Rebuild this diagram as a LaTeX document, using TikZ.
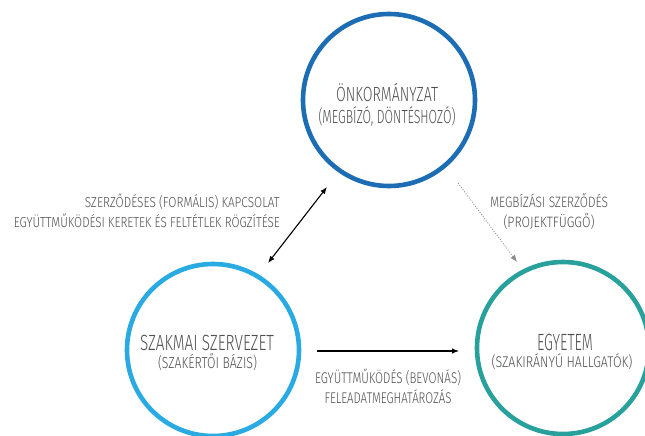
\documentclass[tikz,border=0pt]{standalone}
\usepackage{fontspec}
\setmainfont{Fira Sans Light}
\usetikzlibrary{arrows.meta,calc}
\definecolor{cOnk}{HTML}{1D6DB4}
\definecolor{cSzak}{HTML}{2AAAE2}
\definecolor{cEgy}{HTML}{28A09C}
\definecolor{txtgray}{HTML}{505050}
\definecolor{dotgray}{HTML}{8C8C8C}
\newcommand\fitw[2]{\resizebox{#1}{\height}{#2}}
\begin{document}
\begin{tikzpicture}[x=1pt,y=-1pt,
  ring/.style={circle,draw=#1,line width=4.6pt,minimum size=172pt,inner sep=0pt,outer sep=0pt},
  lbl/.style={text=txtgray,inner sep=0pt,anchor=base},
  fs/.style={font=\fontsize{#1}{#1}\selectfont},
  dbl/.style={line width=1.1pt,{Latex[length=7pt,width=5.5pt]}-{Latex[length=7pt,width=5.5pt]}},
  one/.style={line width=1.1pt,-{Latex[length=7pt,width=5.5pt]}},
  dotline/.style={draw=dotgray,line width=0.8pt,dash pattern=on 1pt off 1.6pt,-{Latex[length=7pt,width=5.5pt,fill=dotgray]}}
]
\clip (0,0) rectangle (645,436);
\fill[white] (0,0) rectangle (645,436);

% circles
\node[ring=cOnk] (onk) at (389,100) {};
\node[ring=cSzak] (szak) at (213,350) {};
\node[ring=cEgy] (egy) at (563,348) {};

% circle texts
\node[lbl,fs=20.5] (onk1) at (387,101) {\fitw{102pt}{ÖNKORMÁNYZAT}};
\node[lbl,fs=19] (onk2) at (387,123.5) {\fitw{137pt}{(MEGBÍZÓ, DÖNTÉSHOZÓ)}};
\node[lbl,fs=22] (szak1) at (207,350) {\fitw{134pt}{SZAKMAI SZERVEZET}};
\node[lbl,fs=16] (szak2) at (207.5,368) {\fitw{99pt}{(SZAKÉRTŐI BÁZIS)}};
\node[lbl,fs=23.5] (egy1) at (565,350) {\fitw{56pt}{EGYETEM}};
\node[lbl,fs=15.5] (egy2) at (562,367.5) {\fitw{141pt}{(SZAKIRÁNYÚ HALLGATÓK)}};

% connector labels
\node[lbl,fs=14.5,anchor=base east] (k1) at (280,207) {\fitw{195pt}{SZERZŐDÉSES (FORMÁLIS) KAPCSOLAT}};
\node[lbl,fs=14.5,anchor=base east] (k2) at (280,227) {\fitw{266pt}{EGYÜTTMŰKÖDÉSI KERETEK ÉS FELTÉTLEK RÖGZÍTÉSE}};
\node[lbl,fs=15] (m1) at (549,207) {\fitw{118pt}{MEGBÍZÁSI SZERZŐDÉS}};
\node[lbl,fs=15] (m2) at (549,227) {\fitw{91pt}{(PROJEKTFÜGGŐ)}};
\node[lbl,fs=15.5] (b1) at (388,383) {\fitw{146pt}{EGYÜTTMŰKÖDÉS (BEVONÁS)}};
\node[lbl,fs=15.5] (b2) at (388,403) {\fitw{127pt}{FELEADATMEGHATÁROZÁS}};

% connectors
\draw[dbl] ($(onk)+(-62,87)$) -- ($(szak)+(55,-87)$);
\draw[dotline] ($(onk)+(69,83)$) -- ($(egy)+(-46,-86)$);
\draw[one] ($(szak)+(104,1)$) -- ($(egy)+(-104,3)$);
\end{tikzpicture}
\end{document}
